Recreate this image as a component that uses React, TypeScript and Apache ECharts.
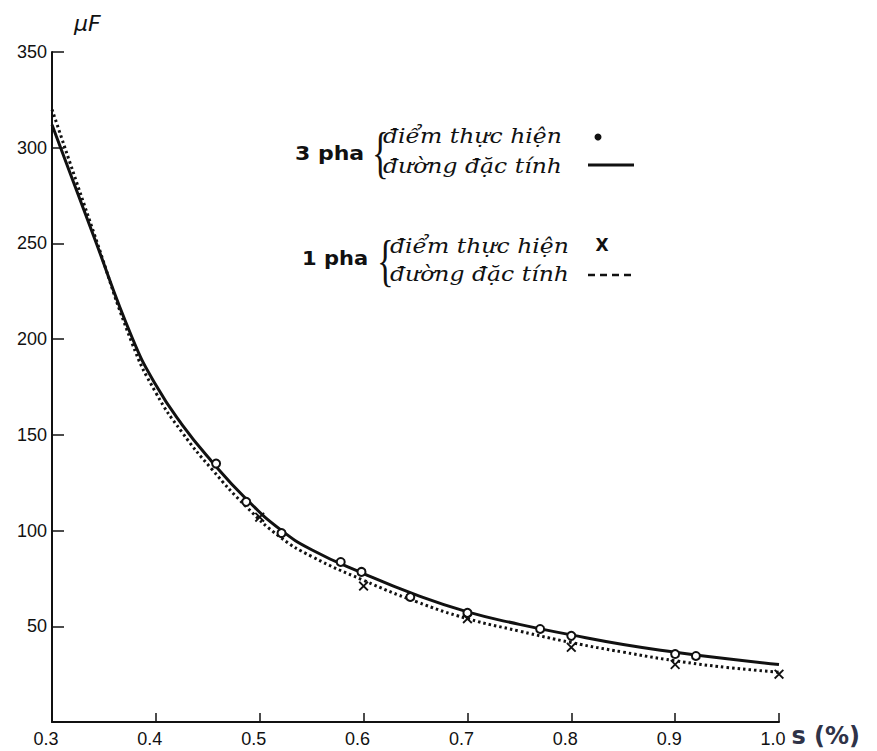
import React, { useEffect, useRef } from "react";
import * as echarts from "echarts";

// 3 pha characteristic curve (solid)
const curve3S = [0.3, 0.34, 0.377, 0.4, 0.425, 0.454, 0.487, 0.52, 0.55, 0.6, 0.65, 0.7, 0.75, 0.8, 0.85, 0.9, 0.95, 1.0];
const curve3V = [312, 254, 201, 176, 155.5, 136, 116.5, 100.5, 90, 77.5, 66.5, 57.5, 51, 45.5, 40.5, 36.5, 33, 30];
// 1 pha characteristic curve (dotted)
const curve1S = [0.3, 0.34, 0.377, 0.4, 0.425, 0.454, 0.487, 0.52, 0.55, 0.6, 0.65, 0.7, 0.75, 0.8, 0.85, 0.9, 0.95, 1.0];
const curve1V = [320, 256, 198, 172, 151.5, 132, 112.5, 96.5, 86.5, 74, 63, 54, 47.5, 41.5, 36.5, 32, 28.5, 26];
// measured points
const pts3S = [0.458, 0.487, 0.521, 0.578, 0.598, 0.645, 0.7, 0.77, 0.8, 0.9, 0.92];
const pts3V = [135, 115, 98.7, 83.6, 78.4, 65.3, 57, 48.6, 45, 35.5, 34.5];
const pts1S = [0.5, 0.6, 0.7, 0.8, 0.9, 1.0];
const pts1V = [107, 71, 54, 39, 30, 25];

const zip = (a: number[], b: number[]) => a.map((v, i) => [v, b[i]]);

const XMARK = "path://M0,1.3 L1.3,0 L5,3.7 L8.7,0 L10,1.3 L6.3,5 L10,8.7 L8.7,10 L5,6.3 L1.3,10 L0,8.7 L3.7,5 Z";

export default function App() {
  const ref = useRef<HTMLDivElement>(null);
  useEffect(() => {
    if (!ref.current) return;
    const chart = echarts.init(ref.current, null, { renderer: "svg" });
    const italic = { fontFamily: "DejaVu Serif", fontStyle: "italic", fontSize: 21, fill: "#111" };
    const bold = { fontFamily: "DejaVu Sans", fontWeight: "bold", fontSize: 20, fill: "#111" };
    const brace = { text: "{", fontFamily: "Liberation Serif", fontSize: 58, fill: "#111", verticalAlign: "middle", align: "left" };
    chart.setOption({
      animation: false,
      backgroundColor: "#ffffff",
      grid: { left: 52, right: 98, top: 52, bottom: 29 },
      xAxis: {
        type: "value",
        min: 0.3,
        max: 1.0,
        interval: 0.1,
        name: "s (%)",
        nameLocation: "end",
        nameGap: 12,
        nameTextStyle: {
          fontFamily: "DejaVu Sans",
          fontWeight: "bold",
          fontSize: 24,
          color: "#2f3348",
          verticalAlign: "top",
          align: "left",
          padding: [2, 0, 0, 0],
        },
        axisLine: { show: true, lineStyle: { color: "#111", width: 2 } },
        axisTick: { show: true, inside: true, length: 9, lineStyle: { color: "#111", width: 1.5 } },
        splitLine: { show: false },
        axisLabel: {
          formatter: (v: number) => v.toFixed(1),
          fontFamily: "Liberation Sans",
          fontSize: 18,
          color: "#111",
          margin: 8,
          padding: [0, 12, 0, 0],
        },
      },
      yAxis: {
        type: "value",
        min: 0,
        max: 350,
        interval: 50,
        name: "μF",
        nameLocation: "end",
        nameGap: 18,
        nameTextStyle: {
          fontFamily: "DejaVu Sans",
          fontStyle: "italic",
          fontSize: 22,
          color: "#111",
          align: "left",
          padding: [0, 0, 0, 22],
        },
        axisLine: { show: true, lineStyle: { color: "#111", width: 2 } },
        axisTick: { show: true, inside: true, length: 12, lineStyle: { color: "#111", width: 1.5 } },
        splitLine: { show: false },
        axisLabel: {
          formatter: (v: number) => (v === 0 ? "" : String(v)),
          fontFamily: "Liberation Sans",
          fontSize: 18,
          color: "#111",
          margin: 5,
        },
      },
      series: [
        {
          name: "1 pha đường đặc tính",
          type: "line",
          data: zip(curve1S, curve1V),
          smooth: 0.5,
          showSymbol: false,
          lineStyle: { color: "#111", width: 3, type: [2.5, 3] },
          z: 2,
        },
        {
          name: "3 pha đường đặc tính",
          type: "line",
          data: zip(curve3S, curve3V),
          smooth: 0.5,
          showSymbol: false,
          lineStyle: { color: "#111", width: 3 },
          z: 3,
        },
        {
          name: "3 pha điểm thực hiện",
          type: "scatter",
          data: zip(pts3S, pts3V),
          symbol: "circle",
          symbolSize: 8,
          itemStyle: { color: "#ffffff", borderColor: "#111", borderWidth: 2, opacity: 1 },
          z: 4,
        },
        {
          name: "1 pha điểm thực hiện",
          type: "scatter",
          data: zip(pts1S, pts1V),
          symbol: XMARK,
          symbolSize: 10,
          itemStyle: { color: "#111", opacity: 1 },
          z: 5,
        },
      ],
      graphic: [
        { type: "text", x: 295, y: 153, scaleX: 1.1, style: { ...bold, text: "3 pha", verticalAlign: "middle", align: "left" } },
        { type: "text", x: 372, y: 152, scaleX: 0.6, style: { ...brace } },
        { type: "text", x: 383, y: 135, scaleX: 1.12, style: { ...italic, text: "điểm thực hiện", verticalAlign: "middle", align: "left" } },
        { type: "text", x: 383, y: 165, scaleX: 1.12, style: { ...italic, text: "đường đặc tính", verticalAlign: "middle", align: "left" } },
        { type: "circle", shape: { cx: 598, cy: 137, r: 3.5 }, style: { fill: "#111" } },
        { type: "line", shape: { x1: 588, y1: 165, x2: 634, y2: 165 }, style: { stroke: "#111", lineWidth: 3 } },
        { type: "text", x: 302, y: 258, scaleX: 1.05, style: { ...bold, text: "1 pha", verticalAlign: "middle", align: "left" } },
        { type: "text", x: 377, y: 260, scaleX: 0.6, style: { ...brace } },
        { type: "text", x: 390, y: 245, scaleX: 1.12, style: { ...italic, text: "điểm thực hiện", verticalAlign: "middle", align: "left" } },
        { type: "text", x: 390, y: 273, scaleX: 1.12, style: { ...italic, text: "đường đặc tính", verticalAlign: "middle", align: "left" } },
        { type: "text", x: 602, y: 245, style: { ...bold, text: "X", fontSize: 17, verticalAlign: "middle", align: "center" } },
        { type: "line", shape: { x1: 588, y1: 275, x2: 636, y2: 275 }, style: { stroke: "#111", lineWidth: 2.5, lineDash: [7, 5] } },
      ],
    });
    return () => chart.dispose();
  }, []);
  return <div ref={ref} style={{ position: "fixed", left: 0, top: 0, width: 877, height: 751, background: "#fff" }} />;
}
